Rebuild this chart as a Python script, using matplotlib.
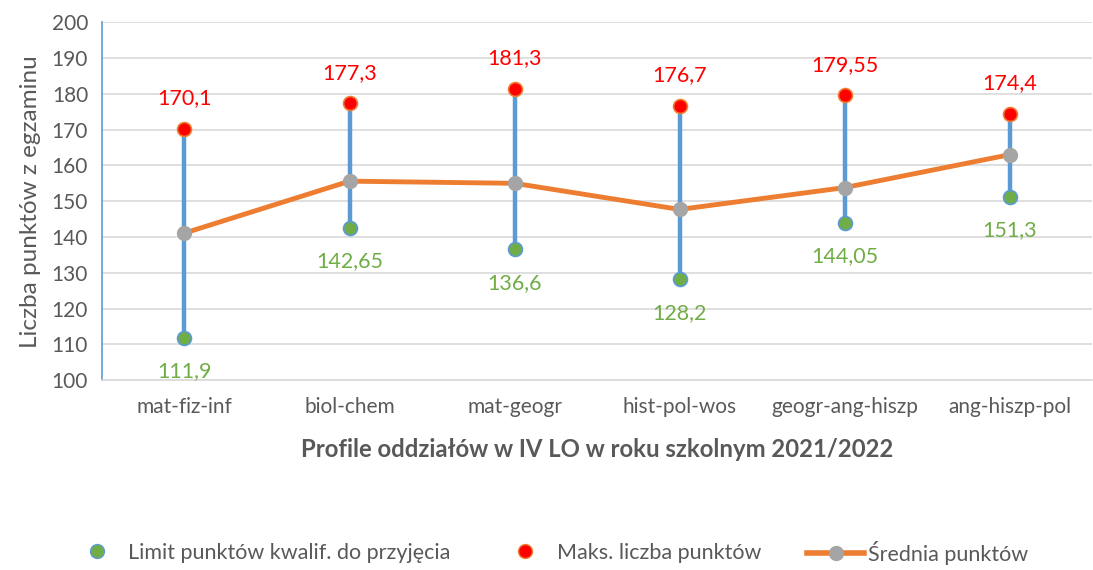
import matplotlib
matplotlib.use('Agg')
import matplotlib.pyplot as plt
from matplotlib.lines import Line2D

plt.rcParams['font.family'] = ['Lato', 'DejaVu Sans']

profiles = ['mat-fiz-inf', 'biol-chem', 'mat-geogr', 'hist-pol-wos', 'geogr-ang-hiszp', 'ang-hiszp-pol']
limit_pts = [111.9, 142.65, 136.6, 128.2, 144.05, 151.3]
max_pts = [170.1, 177.3, 181.3, 176.7, 179.55, 174.4]
avg_pts = [141.1, 155.6, 155.0, 147.7, 153.8, 163.0]

limit_lbl = ['111,9', '142,65', '136,6', '128,2', '144,05', '151,3']
max_lbl = ['170,1', '177,3', '181,3', '176,7', '179,55', '174,4']

BLUE = '#5B9BD5'
ORANGE = '#ED7D31'
GREY = '#A5A5A5'
GREEN = '#70AD47'
RED = '#FF0000'
TXT = '#595959'

fig = plt.figure(figsize=(10.93, 5.70), dpi=100)
ax = fig.add_axes([0.0933, 0.333, 0.906, 0.628])

x = list(range(len(profiles)))

# linie min-max
ax.vlines(x, limit_pts, max_pts, color=BLUE, lw=3.2, zorder=2)

ax.plot(x, avg_pts, color=ORANGE, lw=3.5, marker='o', ms=10,
        mfc=GREY, mec=GREY, zorder=3)
ax.plot(x, limit_pts, ls='none', marker='o', ms=10, mfc=GREEN, mec=BLUE, mew=1.2, zorder=4)
ax.plot(x, max_pts, ls='none', marker='o', ms=10, mfc=RED, mec=ORANGE, mew=1.2, zorder=4)

for i in x:
    ax.annotate(max_lbl[i], (i, max_pts[i]), xytext=(0, 15), textcoords='offset points',
                ha='center', va='bottom', color=RED, fontsize=15.5)
    ax.annotate(limit_lbl[i], (i, limit_pts[i]), xytext=(0, -17), textcoords='offset points',
                ha='center', va='top', color=GREEN, fontsize=15.5)

ax.set_xlim(-0.5, len(profiles) - 0.5)
ax.set_ylim(100, 200)
ax.set_yticks(range(100, 201, 10))
ax.set_xticks(x)
ax.set_xticklabels(profiles)
ax.tick_params(axis='both', length=0, labelsize=15, colors=TXT)
ax.tick_params(axis='x', pad=12)
ax.tick_params(axis='y', pad=10)

ax.grid(axis='y', color='#D9D9D9', lw=1.2)
ax.set_axisbelow(True)
for s in ['top', 'right']:
    ax.spines[s].set_visible(False)
ax.spines['left'].set_color(BLUE)
ax.spines['left'].set_linewidth(1.2)
ax.spines['bottom'].set_color('#D9D9D9')
ax.spines['bottom'].set_linewidth(1.2)

ax.set_ylabel('Liczba punktów z egzaminu', fontsize=17.5, color=TXT, labelpad=8)
ax.set_xlabel('Profile oddziałów w IV LO w roku szkolnym 2021/2022', fontsize=17.2,
              fontweight='bold', color=TXT, labelpad=15)

# legenda - trzy osobne wpisy
leg_items = [
    (Line2D([], [], ls='none', marker='o', ms=10, mfc=GREEN, mec=BLUE),
     'Limit punktów kwalif. do przyjęcia', 86, 1.0, 0.95),
    (Line2D([], [], ls='none', marker='o', ms=10, mfc=RED, mec=ORANGE),
     'Maks. liczba punktów', 514, 1.0, 1.0),
    (Line2D([], [], color=ORANGE, lw=4, marker='o', ms=10, mfc=GREY, mec=GREY),
     'Średnia punktów', 807, 2.65, 0.2),
]
for h, lbl, px, hl, hp in leg_items:
    leg = fig.legend([h], [lbl], loc='center left', bbox_to_anchor=(px / 1093, 1 - 553 / 570),
                     frameon=False, fontsize=15.5, borderpad=0, borderaxespad=0,
                     handlelength=hl, handletextpad=hp)
    for t in leg.get_texts():
        t.set_color(TXT)

fig.savefig('out.png', dpi=100)
